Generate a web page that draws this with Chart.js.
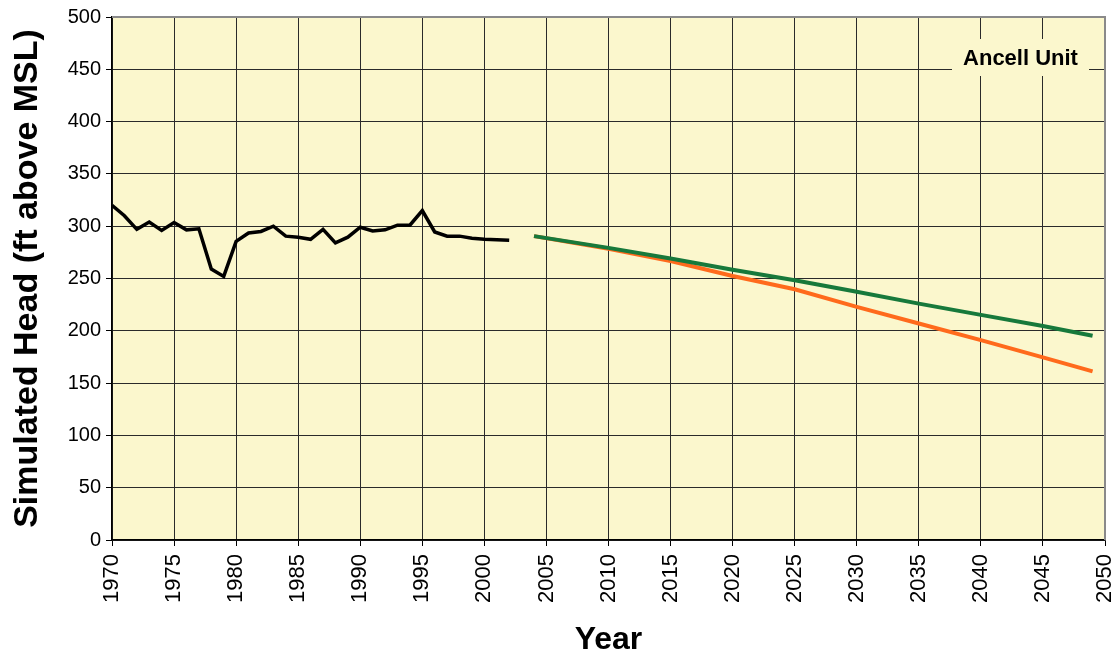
<!DOCTYPE html>
<html>
<head>
<meta charset="utf-8">
<script src="https://cdn.jsdelivr.net/npm/chart.js@4.4.1/dist/chart.umd.min.js"></script>
<style>
  html, body { margin: 0; padding: 0; background: #ffffff; }
  #wrap { width: 1120px; height: 661px; }
</style>
</head>
<body>
<div id="wrap"><canvas id="chart" width="1120" height="661"></canvas></div>
<script>
// Simulated head, Ancell Unit (ft above MSL)
const histYears = [1970, 1971, 1972, 1973, 1974, 1975, 1976, 1977, 1978, 1979,
                   1980, 1981, 1982, 1983, 1984, 1985, 1986, 1987, 1988, 1989,
                   1990, 1991, 1992, 1993, 1994, 1995, 1996, 1997, 1998, 1999,
                   2000, 2001, 2002];
const histHead = [320, 310, 297, 304, 296, 303.5, 296.5, 297.5, 259, 252,
                  285.5, 293.5, 295, 300, 290.5, 289.5, 287.5, 297, 284, 289.5,
                  299, 295.5, 296.5, 301, 301, 315, 294.5, 290.5, 290.5, 288.5,
                  287.5, 287, 286.5];

const projYears = [2004, 2010, 2015, 2020, 2025, 2030, 2035, 2040, 2045, 2049];
const projHeadGreen = [290.5, 279.3, 269.2, 258.4, 248.3, 237.4, 226, 215.2, 204.5, 195.2];
const projHeadOrange = [290.5, 278.5, 266.7, 252.4, 239.7, 222.9, 207, 191.1, 174.6, 161.2];

const yearTicks = [1970, 1975, 1980, 1985, 1990, 1995, 2000, 2005, 2010, 2015,
                   2020, 2025, 2030, 2035, 2040, 2045, 2050];
const headTicks = [0, 50, 100, 150, 200, 250, 300, 350, 400, 450, 500];
const unitLabel = 'Ancell Unit';

const PLOT_BG = '#FBF7CD';
const GRID = '#2a2a2a';
const FONT = '"Liberation Sans", Arial, Helvetica, sans-serif';

const toPoints = (xs, ys) => xs.map((x, i) => ({ x: x, y: ys[i] }));

const plotArea = {
  id: 'plotArea',
  beforeDraw(chart) {
    const { ctx, chartArea: a } = chart;
    ctx.save();
    ctx.fillStyle = PLOT_BG;
    ctx.fillRect(a.left, a.top, a.right - a.left, a.bottom - a.top);
    ctx.restore();
  },
  beforeDatasetsDraw(chart) {
    // unit label box sits over the grid, under the lines
    const { ctx, chartArea: a } = chart;
    const bx = a.right - 153, by = a.top + 22, bw = 137, bh = 37;
    ctx.save();
    ctx.fillStyle = PLOT_BG;
    ctx.fillRect(bx, by, bw, bh);
    ctx.fillStyle = '#000';
    ctx.font = 'bold 22px ' + FONT;
    ctx.textAlign = 'center';
    ctx.textBaseline = 'middle';
    ctx.fillText(unitLabel, bx + bw / 2, by + bh / 2 + 1);
    ctx.restore();
  },
  afterDraw(chart) {
    const { ctx, chartArea: a } = chart;
    ctx.save();
    ctx.strokeStyle = '#8a8a8a';
    ctx.lineWidth = 2;
    ctx.beginPath();
    ctx.moveTo(a.left, a.top);
    ctx.lineTo(a.right, a.top);
    ctx.lineTo(a.right, a.bottom);
    ctx.stroke();
    ctx.restore();
  }
};

// Datasets are painted last-to-first, so the historical line ends up on top
// and the green projection covers the orange one where they coincide.
new Chart(document.getElementById('chart'), {
  type: 'line',
  data: {
    datasets: [
      {
        label: 'Historical',
        data: toPoints(histYears, histHead),
        borderColor: '#000000',
        borderWidth: 3.5,
        pointRadius: 0,
        tension: 0,
        fill: false
      },
      {
        label: 'Projected (green)',
        data: toPoints(projYears, projHeadGreen),
        borderColor: '#17793B',
        borderWidth: 4,
        pointRadius: 0,
        tension: 0,
        fill: false
      },
      {
        label: 'Projected (orange)',
        data: toPoints(projYears, projHeadOrange),
        borderColor: '#FF6A1C',
        borderWidth: 4,
        pointRadius: 0,
        tension: 0,
        fill: false
      }
    ]
  },
  options: {
    responsive: false,
    animation: false,
    devicePixelRatio: 1,
    layout: { padding: { top: 15, right: 0, left: 0, bottom: 0 } },
    plugins: {
      legend: { display: false },
      tooltip: { enabled: false }
    },
    scales: {
      x: {
        type: 'linear',
        min: 1970,
        max: 2050,
        afterBuildTicks(scale) { scale.ticks = yearTicks.map(v => ({ value: v })); },
        afterFit(scale) {
          scale.height = 121;
          scale.paddingLeft = 0;
          scale.paddingRight = 15;
        },
        grid: { color: GRID, lineWidth: 1, tickLength: 6, tickColor: '#000' },
        border: { color: '#000', width: 1.5 },
        ticks: {
          color: '#000',
          font: { family: FONT, size: 22 },
          minRotation: 90,
          maxRotation: 90,
          padding: 8,
          autoSkip: false,
          callback: v => String(v)
        },
        title: {
          display: true,
          text: 'Year',
          color: '#000',
          font: { family: FONT, size: 32, weight: 'bold', lineHeight: 1 },
          padding: { top: 0, bottom: 5 }
        }
      },
      y: {
        min: 0,
        max: 500,
        afterBuildTicks(scale) { scale.ticks = headTicks.map(v => ({ value: v })); },
        afterFit(scale) { scale.width = 112; },
        grid: { color: GRID, lineWidth: 1, tickLength: 6, tickColor: '#000' },
        border: { color: '#000', width: 1.5 },
        ticks: {
          color: '#000',
          font: { family: FONT, size: 20 },
          padding: 5,
          callback: v => String(v)
        },
        title: {
          display: true,
          text: 'Simulated Head (ft above MSL)',
          color: '#000',
          font: { family: FONT, size: 34, weight: 'bold', lineHeight: 1 },
          padding: { top: 11, bottom: 0 }
        }
      }
    }
  },
  plugins: [plotArea]
});
</script>
</body>
</html>
